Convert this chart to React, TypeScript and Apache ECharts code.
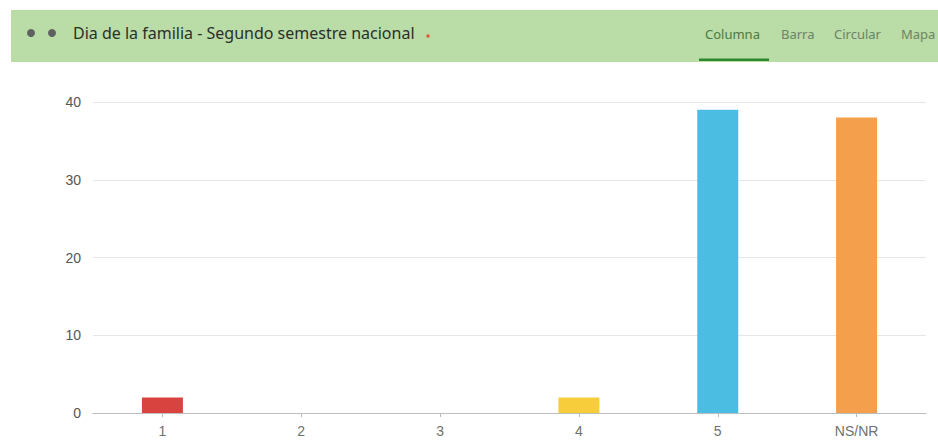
import React, { useEffect, useRef } from "react";
import * as echarts from "echarts";

// Survey answers per score level
const categories = ["1", "2", "3", "4", "5", "NS/NR"];
const counts = [2, 0, 0, 2, 39, 38];
const barColors = ["#d9433f", "#d9433f", "#d9433f", "#f7cd3c", "#4bbde3", "#f49f4b"];
const yTicks = [0, 10, 20, 30, 40];

const title = "Dia de la familia - Segundo semestre nacional";
const tabs = ["Columna", "Barra", "Circular", "Mapa"];
const tabX = [705, 781, 834, 901];

export default function App() {
  const ref = useRef<HTMLDivElement>(null);

  useEffect(() => {
    if (!ref.current) return;
    const chart = echarts.init(ref.current, undefined, { renderer: "svg" });

    const headerFont = "'Noto Sans', Lato, sans-serif";
    const axisFont = "'Liberation Sans', Arial, sans-serif";

    chart.setOption({
      animation: false,
      backgroundColor: "#ffffff",
      grid: { left: 93, right: 12, top: 102, bottom: 27, containLabel: false },
      xAxis: {
        type: "category",
        data: categories,
        axisLine: { lineStyle: { color: "#bdbdbd", width: 1 } },
        axisTick: { show: true, alignWithLabel: true, length: 4, lineStyle: { color: "#bdbdbd" } },
        axisLabel: { color: "#707070", fontSize: 14, fontFamily: axisFont, margin: 11 },
      },
      yAxis: {
        type: "value",
        min: yTicks[0],
        max: yTicks[yTicks.length - 1],
        interval: 10,
        axisLine: { show: false },
        axisTick: { show: false },
        splitLine: { lineStyle: { color: "#e6e6e6", width: 1 } },
        axisLabel: { color: "#555555", fontSize: 14, fontFamily: axisFont, margin: 12 },
      },
      series: [
        {
          type: "bar",
          barWidth: 41,
          data: counts.map((v, i) => ({ value: v, itemStyle: { color: barColors[i] } })),
        },
      ],
      graphic: [
        {
          type: "rect",
          shape: { x: 11, y: 10, width: 927, height: 52 },
          style: { fill: "#badca7" },
          silent: true,
        },
        { type: "circle", shape: { cx: 31, cy: 33, r: 4 }, style: { fill: "#5e6160" } },
        { type: "circle", shape: { cx: 52, cy: 33, r: 4 }, style: { fill: "#5e6160" } },
        {
          type: "text",
          x: 73,
          y: 33,
          style: {
            text: title,
            fill: "#2b2f2b",
            fontSize: 16,
            fontFamily: headerFont,
            verticalAlign: "middle",
          },
        },
        { type: "circle", shape: { cx: 428, cy: 36, r: 1.8 }, style: { fill: "#e0603a" } },
        ...tabs.map((t, i) => ({
          type: "text",
          x: tabX[i],
          y: 34,
          style: {
            text: t,
            fill: i === 0 ? "#4a7a43" : "#6a8466",
            fontSize: 13,
            fontFamily: headerFont,
            verticalAlign: "middle",
          },
        })),
        {
          type: "rect",
          shape: { x: 699, y: 58.5, width: 70, height: 2.5 },
          style: { fill: "#2f8a2c" },
        },
      ],
    });

    return () => chart.dispose();
  }, []);

  return (
    <div
      ref={ref}
      style={{ position: "absolute", left: 0, top: 0, width: 938, height: 440 }}
    />
  );
}
